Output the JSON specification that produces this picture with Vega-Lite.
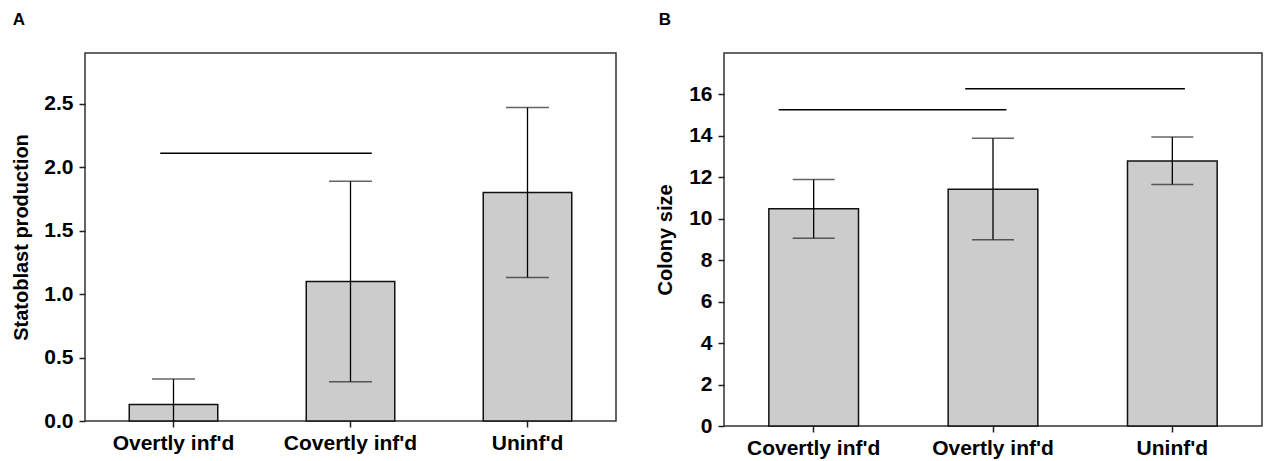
{
  "$schema": "https://vega.github.io/schema/vega-lite/v6.json",
  "padding": {"left": 11, "top": 10, "right": 0, "bottom": 0},
  "background": "white",
  "datasets": {
    "statoblast": [
      {"group": "Overtly inf'd", "mean": 0.13, "lo": -0.07, "hi": 0.33},
      {"group": "Covertly inf'd", "mean": 1.10, "lo": 0.31, "hi": 1.89},
      {"group": "Uninf'd", "mean": 1.80, "lo": 1.13, "hi": 2.47}
    ],
    "colony": [
      {"group": "Covertly inf'd", "mean": 10.48, "lo": 9.06, "hi": 11.89},
      {"group": "Overtly inf'd", "mean": 11.42, "lo": 8.99, "hi": 13.89},
      {"group": "Uninf'd", "mean": 12.79, "lo": 11.65, "hi": 13.95}
    ],
    "sigA": [{"from": "Overtly inf'd", "to": "Covertly inf'd", "y": 2.11}],
    "sigB1": [{"from": "Covertly inf'd", "to": "Overtly inf'd", "y": 15.26}],
    "sigB2": [{"from": "Overtly inf'd", "to": "Uninf'd", "y": 16.27}]
  },
  "spacing": 37,
  "hconcat": [
    {
      "title": {"text": "A", "anchor": "start", "frame": "bounds", "fontSize": 17, "fontWeight": "bold", "font": "Liberation Sans", "offset": 26, "dx": 1, "dy": 2},
      "width": 531,
      "height": 368,
      "layer": [
        {
          "data": {"name": "statoblast"},
          "mark": {"type": "bar", "fill": "#cccccc", "stroke": "#111111", "strokeWidth": 1.5},
          "encoding": {
            "x": {"field": "group", "type": "nominal",
                  "scale": {"domain": ["Overtly inf'd", "Covertly inf'd", "Uninf'd"], "paddingInner": 0.5, "paddingOuter": 0.25},
                  "axis": {"title": null, "labelAngle": 0, "tickSize": 6, "labelPadding": 5}},
            "y": {"field": "mean", "type": "quantitative",
                  "scale": {"domain": [0, 2.9], "nice": false, "zero": true},
                  "axis": {"title": "Statoblast production", "values": [0, 0.5, 1, 1.5, 2, 2.5], "format": ".1f", "tickSize": 6, "labelPadding": 6, "titlePadding": 12}}
          }
        },
        {
          "data": {"name": "statoblast"},
          "mark": {"type": "rule", "color": "#000000", "strokeWidth": 1.3, "clip": true},
          "encoding": {
            "x": {"field": "group", "type": "nominal"},
            "y": {"field": "lo", "type": "quantitative"},
            "y2": {"field": "hi"}
          }
        },
        {
          "data": {"name": "statoblast"},
          "mark": {"type": "tick", "size": 43, "thickness": 1.5, "color": "#222222", "clip": true},
          "encoding": {
            "x": {"field": "group", "type": "nominal"},
            "y": {"field": "hi", "type": "quantitative"}
          }
        },
        {
          "data": {"name": "statoblast"},
          "mark": {"type": "tick", "size": 43, "thickness": 1.5, "color": "#222222", "clip": true},
          "encoding": {
            "x": {"field": "group", "type": "nominal"},
            "y": {"field": "lo", "type": "quantitative"}
          }
        },
        {
          "data": {"name": "sigA"},
          "mark": {"type": "rule", "color": "#000000", "strokeWidth": 1.5},
          "encoding": {
            "x": {"field": "from", "type": "nominal", "bandPosition": 0.35},
            "x2": {"field": "to", "bandPosition": 0.74},
            "y": {"field": "y", "type": "quantitative"}
          }
        }
      ]
    },
    {
      "title": {"text": "B", "anchor": "start", "frame": "bounds", "fontSize": 17, "fontWeight": "bold", "font": "Liberation Sans", "offset": 26, "dx": 3, "dy": 2},
      "width": 538,
      "height": 373,
      "layer": [
        {
          "data": {"name": "colony"},
          "mark": {"type": "bar", "fill": "#cccccc", "stroke": "#111111", "strokeWidth": 1.5},
          "encoding": {
            "x": {"field": "group", "type": "nominal",
                  "scale": {"domain": ["Covertly inf'd", "Overtly inf'd", "Uninf'd"], "paddingInner": 0.5, "paddingOuter": 0.25},
                  "axis": {"title": null, "labelAngle": 0, "tickSize": 6, "labelPadding": 5}},
            "y": {"field": "mean", "type": "quantitative",
                  "scale": {"domain": [0, 18], "nice": false, "zero": true},
                  "axis": {"title": "Colony size", "values": [0, 2, 4, 6, 8, 10, 12, 14, 16], "tickSize": 6, "labelPadding": 6, "titlePadding": 13}}
          }
        },
        {
          "data": {"name": "colony"},
          "mark": {"type": "rule", "color": "#000000", "strokeWidth": 1.3, "clip": true},
          "encoding": {
            "x": {"field": "group", "type": "nominal"},
            "y": {"field": "lo", "type": "quantitative"},
            "y2": {"field": "hi"}
          }
        },
        {
          "data": {"name": "colony"},
          "mark": {"type": "tick", "size": 42, "thickness": 1.5, "color": "#222222", "clip": true},
          "encoding": {
            "x": {"field": "group", "type": "nominal"},
            "y": {"field": "hi", "type": "quantitative"}
          }
        },
        {
          "data": {"name": "colony"},
          "mark": {"type": "tick", "size": 42, "thickness": 1.5, "color": "#222222", "clip": true},
          "encoding": {
            "x": {"field": "group", "type": "nominal"},
            "y": {"field": "lo", "type": "quantitative"}
          }
        },
        {
          "data": {"name": "sigB1"},
          "mark": {"type": "rule", "color": "#000000", "strokeWidth": 1.5},
          "encoding": {
            "x": {"field": "from", "type": "nominal", "bandPosition": 0.11},
            "x2": {"field": "to", "bandPosition": 0.65},
            "y": {"field": "y", "type": "quantitative"}
          }
        },
        {
          "data": {"name": "sigB2"},
          "mark": {"type": "rule", "color": "#000000", "strokeWidth": 1.5},
          "encoding": {
            "x": {"field": "from", "type": "nominal", "bandPosition": 0.19},
            "x2": {"field": "to", "bandPosition": 0.64},
            "y": {"field": "y", "type": "quantitative"}
          }
        }
      ]
    }
  ],
  "config": {
    "view": {"stroke": "#333333", "strokeWidth": 1.5},
    "axis": {
      "labelFont": "Liberation Sans", "labelFontWeight": "bold", "labelFontSize": 21, "labelColor": "#000000",
      "titleFont": "Liberation Sans", "titleFontWeight": "bold", "titleFontSize": 20, "titleColor": "#000000",
      "grid": false, "domain": false, "tickColor": "#222222", "tickWidth": 1.5
    },
    "title": {"color": "#000000"}
  }
}
